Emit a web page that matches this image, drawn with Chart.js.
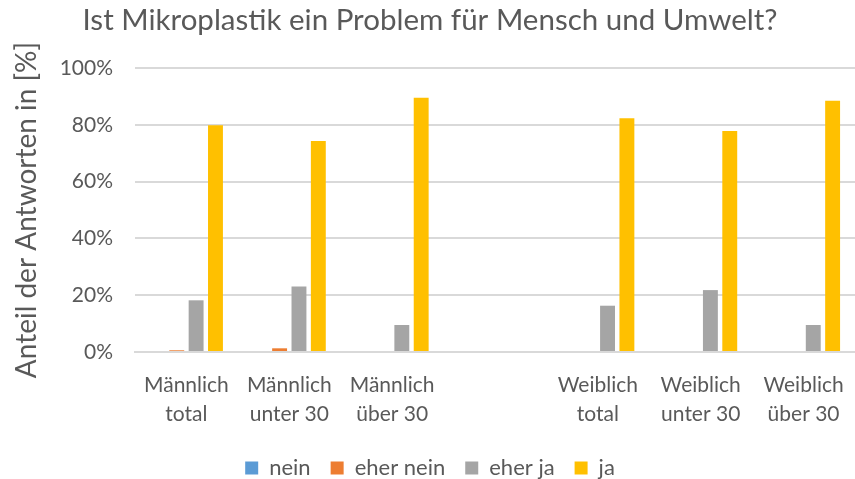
<!DOCTYPE html>
<html>
<head>
<meta charset="utf-8">
<script src="https://cdn.jsdelivr.net/npm/chart.js@4"></script>
<style>
  html, body { margin: 0; padding: 0; background: #fff; }
  #wrap { width: 855px; height: 479px; overflow: hidden; }
</style>
</head>
<body>
<div id="wrap"><canvas id="chart" width="855" height="479"></canvas></div>
<script>
// Kategorien (leere Kategorie als Lücke zwischen Männlich und Weiblich)
const kategorien = [
  ["Männlich", "total"],
  ["Männlich", "unter 30"],
  ["Männlich", "über 30"],
  "",
  ["Weiblich", "total"],
  ["Weiblich", "unter 30"],
  ["Weiblich", "über 30"]
];

// Anteile in %
const nein      = [0,    0,    0,    null, 0,    0,    0];
const eherNein  = [0.6,  1.3,  0,    null, 0,    0,    0];
const eherJa    = [18.2, 23.1, 9.5,  null, 16.3, 21.8, 9.5];
const ja        = [79.8, 74.3, 89.5, null, 82.3, 77.8, 88.5];

const yTicks = [0, 20, 40, 60, 80, 100];

const grau = "#595959";
const fontFam = "Lato, 'Open Sans', sans-serif";

const ctx = document.getElementById("chart").getContext("2d");
new Chart(ctx, {
  type: "bar",
  data: {
    labels: kategorien,
    datasets: [
      { label: "nein", data: nein, backgroundColor: "#5B9BD5" },
      { label: "eher nein", data: eherNein, backgroundColor: "#ED7D31" },
      { label: "eher ja", data: eherJa, backgroundColor: "#A5A5A5" },
      { label: "ja", data: ja, backgroundColor: "#FFC000" }
    ]
  },
  options: {
    responsive: false,
    animation: false,
    devicePixelRatio: 1,
    datasets: {
      bar: { categoryPercentage: 0.753, barPercentage: 0.77 }
    },
    // Original ist rechts abgeschnitten, Legende sitzt tief -> negative Ränder
    layout: { padding: { left: 0, right: -5, top: 0, bottom: -10 } },
    plugins: {
      title: {
        display: true,
        text: "Ist Mikroplastik ein Problem für Mensch und Umwelt?",
        color: grau,
        font: { family: fontFam, size: 29.5, weight: "normal", lineHeight: 1.2 },
        padding: { top: 3, bottom: 29.6 }
      },
      legend: {
        position: "bottom",
        labels: {
          color: grau,
          font: { family: fontFam, size: 22 },
          boxWidth: 13,
          boxHeight: 13,
          padding: 20
        }
      },
      tooltip: { enabled: false }
    },
    scales: {
      x: {
        grid: { display: false },
        border: { color: "#D9D9D9", width: 2 },
        afterFit: axis => { axis.height = 85; },
        ticks: {
          color: grau,
          font: { family: fontFam, size: 21, lineHeight: 1.38 },
          maxRotation: 0,
          autoSkip: false,
          padding: 11
        }
      },
      y: {
        min: 0,
        max: 100,
        afterBuildTicks: axis => { axis.ticks = yTicks.map(v => ({ value: v })); },
        afterFit: axis => { axis.width = 135; },
        grid: { color: "#D9D9D9", lineWidth: 2, drawTicks: false },
        border: { display: false },
        ticks: {
          color: grau,
          font: { family: fontFam, size: 21 },
          padding: 22,
          callback: v => v + "%"
        },
        title: {
          display: true,
          text: "Anteil der Antworten in [%]",
          color: grau,
          font: { family: fontFam, size: 28 },
          padding: { top: 10, bottom: 0 }
        }
      }
    }
  }
});
</script>
</body>
</html>
